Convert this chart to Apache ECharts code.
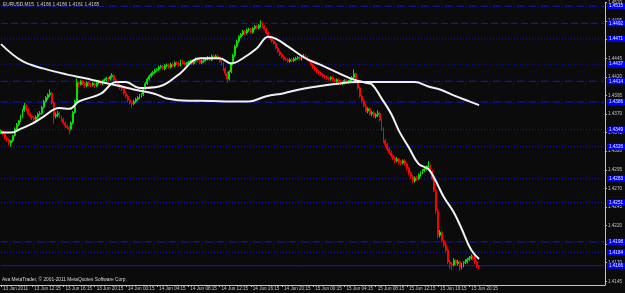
<!DOCTYPE html>
<html>
<head>
<meta charset="utf-8">
<script src="https://cdn.jsdelivr.net/npm/echarts@6/dist/echarts.min.js"></script>
<style>
html,body{margin:0;padding:0;background:#0b0b0b;}
#c{width:625px;height:293px;}
</style>
</head>
<body>
<div id="c"></div>
<script>
// ---- data ----
const symbolTitle = 'EURUSD,M15  1.4166 1.4166 1.4161 1.4165';
const copyright = 'Ava MetaTrader, \u00a9 2001-2011 MetaQuotes Software Corp.';
const xTickLabels = ['13 Jun 2011','13 Jun 12:15','13 Jun 16:15','13 Jun 20:15','14 Jun 00:15','14 Jun 04:15','14 Jun 08:15','14 Jun 12:15','14 Jun 16:15','14 Jun 20:15','15 Jun 00:15','15 Jun 04:15','15 Jun 08:15','15 Jun 12:15','15 Jun 16:15','15 Jun 20:15'];
const yTickValues = [1.4145,1.4170,1.4195,1.4220,1.4245,1.4270,1.4295,1.4320,1.4345,1.4370,1.4395,1.4420,1.4445,1.4470,1.4495,1.4520];
// candles: [open, close, low, high]
const ohlc = [
[1.4345,1.4347,1.4343,1.4349],[1.4347,1.4343,1.4341,1.4348],[1.4343,1.4338,1.4336,1.4345],[1.4338,1.4336,1.4333,1.4340],
[1.4336,1.4331,1.4328,1.4337],[1.4331,1.4334,1.4326,1.4335],[1.4334,1.4341,1.4332,1.4342],[1.4341,1.4350,1.4340,1.4352],
[1.4350,1.4356,1.4348,1.4358],[1.4356,1.4361,1.4354,1.4362],[1.4361,1.4367,1.4359,1.4369],[1.4367,1.4375,1.4365,1.4377],
[1.4375,1.4381,1.4373,1.4385],[1.4381,1.4376,1.4374,1.4383],[1.4376,1.4370,1.4368,1.4378],[1.4370,1.4367,1.4364,1.4372],
[1.4367,1.4365,1.4362,1.4369],[1.4365,1.4363,1.4360,1.4367],[1.4363,1.4366,1.4361,1.4368],[1.4366,1.4370,1.4364,1.4372],
[1.4370,1.4371,1.4368,1.4374],[1.4371,1.4379,1.4369,1.4381],[1.4379,1.4387,1.4377,1.4389],[1.4387,1.4392,1.4385,1.4394],
[1.4392,1.4396,1.4389,1.4398],[1.4396,1.4398,1.4393,1.4403],[1.4398,1.4385,1.4383,1.4400],[1.4385,1.4367,1.4357,1.4387],
[1.4367,1.4369,1.4364,1.4372],[1.4369,1.4371,1.4366,1.4374],[1.4371,1.4366,1.4364,1.4373],[1.4366,1.4363,1.4360,1.4368],
[1.4363,1.4358,1.4356,1.4365],[1.4358,1.4354,1.4351,1.4360],[1.4354,1.4352,1.4349,1.4356],[1.4352,1.4350,1.4343,1.4354],
[1.4350,1.4358,1.4348,1.4360],[1.4358,1.4372,1.4356,1.4374],[1.4372,1.4387,1.4370,1.4389],[1.4387,1.4412,1.4385,1.4418],
[1.4412,1.4410,1.4406,1.4414],[1.4410,1.4414,1.4408,1.4416],[1.4414,1.4411,1.4409,1.4416],[1.4411,1.4408,1.4405,1.4413],
[1.4408,1.4412,1.4406,1.4414],[1.4412,1.4410,1.4407,1.4414],[1.4410,1.4409,1.4406,1.4412],[1.4409,1.4411,1.4407,1.4413],
[1.4411,1.4408,1.4405,1.4412],[1.4408,1.4412,1.4406,1.4414],[1.4412,1.4414,1.4410,1.4416],[1.4414,1.4411,1.4409,1.4416],
[1.4411,1.4414,1.4409,1.4416],[1.4414,1.4416,1.4412,1.4418],[1.4416,1.4418,1.4414,1.4420],[1.4418,1.4417,1.4414,1.4420],
[1.4417,1.4420,1.4415,1.4422],[1.4420,1.4422,1.4418,1.4425],[1.4422,1.4416,1.4414,1.4423],[1.4416,1.4412,1.4410,1.4418],
[1.4412,1.4409,1.4406,1.4414],[1.4409,1.4406,1.4403,1.4411],[1.4406,1.4404,1.4401,1.4408],[1.4404,1.4398,1.4396,1.4406],
[1.4398,1.4394,1.4391,1.4400],[1.4394,1.4389,1.4386,1.4396],[1.4389,1.4386,1.4383,1.4391],[1.4386,1.4384,1.4378,1.4388],
[1.4384,1.4387,1.4382,1.4389],[1.4387,1.4390,1.4385,1.4392],[1.4390,1.4392,1.4388,1.4394],[1.4392,1.4395,1.4390,1.4397],
[1.4395,1.4396,1.4392,1.4398],[1.4396,1.4404,1.4394,1.4406],[1.4404,1.4411,1.4402,1.4413],[1.4411,1.4417,1.4409,1.4419],
[1.4417,1.4421,1.4415,1.4423],[1.4421,1.4424,1.4419,1.4426],[1.4424,1.4426,1.4422,1.4428],[1.4426,1.4429,1.4424,1.4431],
[1.4429,1.4430,1.4427,1.4432],[1.4430,1.4433,1.4428,1.4435],[1.4433,1.4434,1.4431,1.4436],[1.4434,1.4431,1.4429,1.4436],
[1.4431,1.4435,1.4429,1.4437],[1.4435,1.4436,1.4433,1.4438],[1.4436,1.4433,1.4431,1.4438],[1.4433,1.4437,1.4431,1.4439],
[1.4437,1.4435,1.4433,1.4439],[1.4435,1.4439,1.4433,1.4441],[1.4439,1.4438,1.4436,1.4441],[1.4438,1.4436,1.4434,1.4440],
[1.4436,1.4441,1.4434,1.4443],[1.4441,1.4439,1.4437,1.4443],[1.4439,1.4437,1.4435,1.4441],[1.4437,1.4438,1.4435,1.4440],
[1.4438,1.4440,1.4436,1.4442],[1.4440,1.4441,1.4438,1.4443],[1.4441,1.4438,1.4436,1.4443],[1.4438,1.4442,1.4436,1.4444],
[1.4442,1.4444,1.4440,1.4446],[1.4444,1.4442,1.4440,1.4446],[1.4442,1.4439,1.4437,1.4444],[1.4439,1.4441,1.4437,1.4443],
[1.4441,1.4443,1.4439,1.4445],[1.4443,1.4444,1.4441,1.4446],[1.4444,1.4446,1.4442,1.4448],[1.4446,1.4443,1.4441,1.4448],
[1.4443,1.4448,1.4441,1.4450],[1.4448,1.4446,1.4444,1.4450],[1.4446,1.4448,1.4444,1.4450],[1.4448,1.4445,1.4443,1.4450],
[1.4445,1.4441,1.4439,1.4447],[1.4441,1.4438,1.4435,1.4443],[1.4438,1.4431,1.4428,1.4440],[1.4431,1.4425,1.4421,1.4433],
[1.4425,1.4417,1.4412,1.4427],[1.4417,1.4427,1.4415,1.4429],[1.4427,1.4438,1.4425,1.4440],[1.4438,1.4449,1.4436,1.4451],
[1.4449,1.4461,1.4447,1.4463],[1.4461,1.4468,1.4459,1.4470],[1.4468,1.4474,1.4466,1.4476],[1.4474,1.4477,1.4472,1.4479],
[1.4477,1.4481,1.4475,1.4483],[1.4481,1.4479,1.4476,1.4483],[1.4479,1.4483,1.4477,1.4485],[1.4483,1.4484,1.4481,1.4486],
[1.4484,1.4480,1.4478,1.4486],[1.4480,1.4485,1.4478,1.4487],[1.4485,1.4488,1.4483,1.4490],[1.4488,1.4486,1.4484,1.4490],
[1.4486,1.4489,1.4484,1.4491],[1.4489,1.4492,1.4487,1.4496],[1.4492,1.4488,1.4486,1.4494],[1.4488,1.4484,1.4482,1.4490],
[1.4484,1.4479,1.4477,1.4486],[1.4479,1.4474,1.4472,1.4481],[1.4474,1.4471,1.4469,1.4476],[1.4471,1.4468,1.4466,1.4473],
[1.4468,1.4465,1.4463,1.4470],[1.4465,1.4459,1.4457,1.4467],[1.4459,1.4454,1.4452,1.4461],[1.4454,1.4450,1.4448,1.4456],
[1.4450,1.4447,1.4445,1.4452],[1.4447,1.4444,1.4442,1.4449],[1.4444,1.4443,1.4441,1.4446],[1.4443,1.4441,1.4439,1.4445],
[1.4441,1.4443,1.4439,1.4445],[1.4443,1.4442,1.4440,1.4445],[1.4442,1.4444,1.4440,1.4446],[1.4444,1.4445,1.4442,1.4447],
[1.4445,1.4446,1.4443,1.4448],[1.4446,1.4444,1.4442,1.4448],[1.4444,1.4447,1.4442,1.4449],[1.4447,1.4448,1.4445,1.4451],
[1.4448,1.4446,1.4444,1.4450],[1.4446,1.4443,1.4441,1.4448],[1.4443,1.4441,1.4439,1.4445],[1.4441,1.4436,1.4434,1.4443],
[1.4436,1.4433,1.4431,1.4438],[1.4433,1.4430,1.4428,1.4435],[1.4430,1.4427,1.4425,1.4432],[1.4427,1.4425,1.4423,1.4429],
[1.4425,1.4423,1.4421,1.4427],[1.4423,1.4421,1.4419,1.4425],[1.4421,1.4420,1.4418,1.4423],[1.4420,1.4418,1.4416,1.4422],
[1.4418,1.4417,1.4415,1.4420],[1.4417,1.4419,1.4415,1.4421],[1.4419,1.4416,1.4414,1.4421],[1.4416,1.4414,1.4412,1.4418],
[1.4414,1.4416,1.4412,1.4418],[1.4416,1.4414,1.4412,1.4418],[1.4414,1.4411,1.4409,1.4416],[1.4411,1.4412,1.4409,1.4414],
[1.4412,1.4415,1.4410,1.4417],[1.4415,1.4413,1.4411,1.4417],[1.4413,1.4414,1.4411,1.4416],[1.4414,1.4416,1.4412,1.4418],
[1.4416,1.4419,1.4414,1.4421],[1.4419,1.4424,1.4417,1.4430],[1.4424,1.4414,1.4412,1.4426],[1.4414,1.4405,1.4403,1.4416],
[1.4405,1.4394,1.4392,1.4407],[1.4394,1.4388,1.4385,1.4396],[1.4388,1.4381,1.4379,1.4390],[1.4381,1.4374,1.4372,1.4383],
[1.4374,1.4377,1.4371,1.4379],[1.4377,1.4370,1.4368,1.4379],[1.4370,1.4372,1.4367,1.4374],[1.4372,1.4367,1.4365,1.4374],
[1.4367,1.4369,1.4364,1.4371],[1.4369,1.4371,1.4366,1.4375],[1.4371,1.4362,1.4360,1.4373],[1.4362,1.4350,1.4347,1.4364],
[1.4350,1.4334,1.4331,1.4352],[1.4334,1.4329,1.4326,1.4337],[1.4329,1.4323,1.4320,1.4331],[1.4323,1.4318,1.4315,1.4326],
[1.4318,1.4314,1.4311,1.4321],[1.4314,1.4311,1.4308,1.4316],[1.4311,1.4307,1.4304,1.4313],[1.4307,1.4309,1.4305,1.4312],
[1.4309,1.4305,1.4302,1.4311],[1.4305,1.4304,1.4301,1.4308],[1.4304,1.4307,1.4302,1.4309],[1.4307,1.4303,1.4300,1.4309],
[1.4303,1.4297,1.4294,1.4305],[1.4297,1.4291,1.4288,1.4299],[1.4291,1.4286,1.4283,1.4293],[1.4286,1.4280,1.4277,1.4288],
[1.4280,1.4284,1.4278,1.4286],[1.4284,1.4283,1.4280,1.4287],[1.4283,1.4288,1.4281,1.4290],[1.4288,1.4291,1.4286,1.4293],
[1.4291,1.4294,1.4289,1.4296],[1.4294,1.4296,1.4292,1.4299],[1.4296,1.4298,1.4294,1.4301],[1.4298,1.4300,1.4296,1.4307],
[1.4300,1.4292,1.4290,1.4302],[1.4292,1.4283,1.4281,1.4295],[1.4283,1.4267,1.4265,1.4285],[1.4267,1.4240,1.4236,1.4269],
[1.4240,1.4207,1.4203,1.4242],[1.4207,1.4211,1.4204,1.4214],[1.4211,1.4200,1.4197,1.4213],[1.4200,1.4194,1.4191,1.4202],
[1.4194,1.4187,1.4184,1.4197],[1.4187,1.4171,1.4168,1.4189],[1.4171,1.4168,1.4162,1.4174],[1.4168,1.4167,1.4160,1.4171],
[1.4167,1.4173,1.4165,1.4176],[1.4173,1.4169,1.4166,1.4175],[1.4169,1.4171,1.4166,1.4174],[1.4171,1.4164,1.4159,1.4173],
[1.4164,1.4167,1.4161,1.4170],[1.4167,1.4170,1.4164,1.4172],[1.4170,1.4171,1.4168,1.4175],[1.4171,1.4174,1.4169,1.4177],
[1.4174,1.4176,1.4172,1.4179],[1.4176,1.4178,1.4174,1.4181],[1.4178,1.4177,1.4174,1.4180],[1.4177,1.4171,1.4168,1.4179],
[1.4171,1.4166,1.4163,1.4173],[1.4166,1.4165,1.4161,1.4166]
];
// moving averages: bar index / price
const maFastBars   = [0,5,10,16,21,30,35,40,51,59,64,71,81,91,102,112,118,124,131,137,141,147,156,163,173,180,187,190,195,200,204,209,214,219,222,227,232,236,241,245];
const maFastValues = [1.4345,1.4345,1.4350,1.4357,1.4365,1.4378,1.4377,1.4387,1.4397,1.4413,1.4413,1.4405,1.4407,1.4423,1.4445,1.4445,1.4438,1.4445,1.4458,1.4474,1.4471,1.4461,1.4445,1.4437,1.4425,1.4417,1.4412,1.4410,1.4391,1.4370,1.4347,1.4325,1.4303,1.4296,1.4284,1.4258,1.4238,1.4216,1.4187,1.4175];
const maSlowBars   = [0,11,22,34,45,51,62,68,79,85,96,102,115,127,136,145,153,162,170,183,196,212,219,226,233,240,245];
const maSlowValues = [1.4464,1.4441,1.4431,1.4423,1.4417,1.4413,1.4407,1.4403,1.4397,1.4391,1.4388,1.4388,1.4387,1.4387,1.4394,1.4398,1.4403,1.4407,1.4410,1.4413,1.4413,1.4413,1.4407,1.4402,1.4394,1.4387,1.4382];
// horizontal price lines
const hLinePrices = [1.4515,1.4492,1.4471,1.4437,1.4414,1.4386,1.4349,1.4326,1.4283,1.4251,1.4198,1.4184,1.4166];
const hLineStyles = ['dashdot','dashed','dotted','dotted','dashdot','dashdot','dotted','dotted','dotted','dotted','dashdot','dotted','solid'];
const slotCount = 310;

// ---- chart ----
const dashMap = {dotted:[1,2], dashed:[7,3], dashdot:[7,2,1,2], solid:'solid'};
const lineBlue = '#0c18e0';
const axisGray = '#c4c4c4';
const FONT = 'Liberation Sans';
const cats = Array.from({length: slotCount}, (_, i) => String(i));
const showTick = (i) => i % 16 === 0 && (i / 16) < xTickLabels.length;

const upData = ohlc.map(r => (r[1] >= r[0] ? r : '-'));
const downData = ohlc.map(r => (r[1] < r[0] ? r : '-'));

const hLineSeries = hLinePrices.map((p, k) => ({
  type: 'line', silent: true, z: 1, symbol: 'none', animation: false,
  data: [[0, p], [slotCount - 1, p]],
  lineStyle: {color: lineBlue, width: 1, type: dashMap[hLineStyles[k]]},
  endLabel: {show: true, distance: 3, formatter: p.toFixed(4),
    backgroundColor: '#0000ff', color: '#e8e8ff', fontSize: 4.6, fontFamily: FONT, padding: [1,2,0,2]}
}));

const candleStyle = (c) => ({color: c, color0: c, borderColor: c, borderColor0: c, borderColorDoji: c, borderWidth: 1});

const chart = echarts.init(document.getElementById('c'), null, {renderer: 'canvas'});
chart.setOption({
  animation: false,
  backgroundColor: '#0b0b0b',
  grid: {left: 0, right: 19, top: 1, bottom: 8, containLabel: false},
  xAxis: {
    type: 'category', data: cats, boundaryGap: true,
    axisLine: {show: true, lineStyle: {color: axisGray, width: 1}},
    axisTick: {show: true, interval: showTick, alignWithLabel: true, length: 2, lineStyle: {color: axisGray}},
    axisLabel: {show: true, interval: showTick, formatter: (v, i) => xTickLabels[i / 16] || '',
      align: 'left', margin: 1, color: axisGray, fontSize: 4.6, fontFamily: FONT, padding: [0,0,0,2]},
    splitLine: {show: false}
  },
  yAxis: {
    type: 'value', position: 'right', min: 1.4140, max: 1.4520, scale: true,
    axisLine: {show: true, lineStyle: {color: axisGray, width: 1}},
    axisTick: {show: true, length: 2, customValues: yTickValues, lineStyle: {color: axisGray}},
    axisLabel: {show: true, customValues: yTickValues, formatter: v => v.toFixed(4),
      margin: 3, color: axisGray, fontSize: 4.6, fontFamily: FONT},
    splitLine: {show: false}
  },
  series: hLineSeries.concat([
    {type: 'candlestick', name: 'up', data: upData, barWidth: 1.4, z: 4, itemStyle: candleStyle('#00e400')},
    {type: 'candlestick', name: 'down', data: downData, barWidth: 1.4, z: 4, itemStyle: candleStyle('#ff0000')},
    {
      type: 'line', data: maSlowBars.map((b, k) => [b, maSlowValues[k]]), smooth: 0.4, silent: true,
      showSymbol: false, symbol: 'none', lineStyle: {color: '#eeeef4', width: 2}, z: 5
    },
    {
      type: 'line', data: maFastBars.map((b, k) => [b, maFastValues[k]]), smooth: 0.4, silent: true,
      showSymbol: false, symbol: 'none', lineStyle: {color: '#f4f4f4', width: 2}, z: 5
    }
  ]),
  graphic: [
    {type: 'text', left: 3, top: 2, style: {text: symbolTitle, fill: '#d8d8d8', fontSize: 4.8, fontFamily: FONT}},
    {type: 'text', left: 2, top: 277, style: {text: copyright, fill: '#d8d8d8', fontSize: 4.8, fontFamily: FONT}}
  ]
});
</script>
</body>
</html>
